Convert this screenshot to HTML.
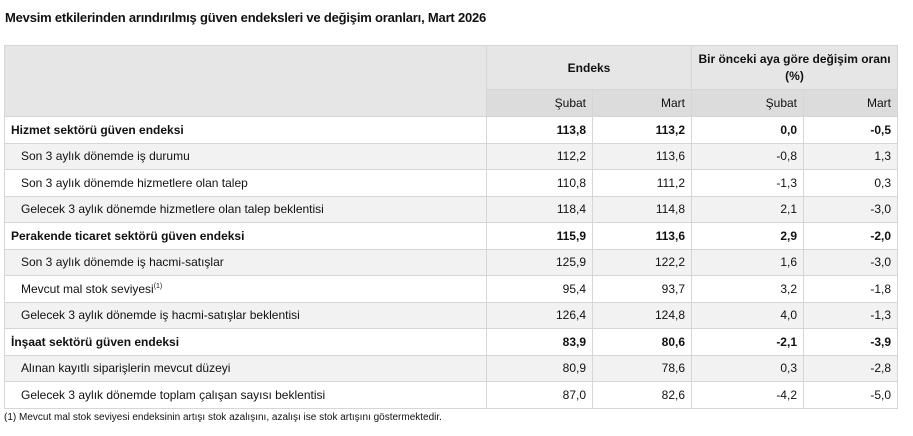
<!DOCTYPE html>
<html><head><meta charset="utf-8"><style>
body{margin:0;background:#fff;width:913px;height:436px;overflow:hidden;font-family:"Liberation Sans",Arial,sans-serif;color:#111;position:relative}
.t{position:absolute;left:5px;top:10px;font-size:13px;font-weight:bold;letter-spacing:-0.2px}
table{position:absolute;left:4px;top:45px;width:893px;border-collapse:collapse;table-layout:fixed;font-size:12px}
td,th{border:1px solid #d6d6d6;padding:0 6px;box-sizing:border-box}
th{font-weight:bold;background:#e6e6e6}
tr.h2 td{background:#dcdcdc;text-align:right;height:27px}
tbody td{height:26.5px;text-align:right}
tbody td:first-child{text-align:left}
tbody tr:nth-child(even) td{background:#f2f2f2}
tr.b td{font-weight:bold}
td.i{padding-left:16px}
.f{position:absolute;left:4px;top:412px;font-size:10px}
sup{font-size:7px}
</style></head><body>
<div class="t">Mevsim etkilerinden arındırılmış güven endeksleri ve değişim oranları, Mart 2026</div>
<table>
<colgroup><col style="width:482px"><col style="width:106px"><col style="width:99px"><col style="width:112px"><col style="width:94px"></colgroup>
<thead>
<tr><th rowspan="2" style="height:71px"></th><th colspan="2" style="height:44px">Endeks</th><th colspan="2" style="line-height:17px;white-space:nowrap;padding:0 4px">Bir önceki aya göre değişim oranı<br>(%)</th></tr>
<tr class="h2"><td>Şubat</td><td>Mart</td><td>Şubat</td><td>Mart</td></tr>
</thead>
<tbody>
<tr class="b"><td>Hizmet sektörü güven endeksi</td><td>113,8</td><td>113,2</td><td>0,0</td><td>-0,5</td></tr>
<tr><td class="i">Son 3 aylık dönemde iş durumu</td><td>112,2</td><td>113,6</td><td>-0,8</td><td>1,3</td></tr>
<tr><td class="i">Son 3 aylık dönemde hizmetlere olan talep</td><td>110,8</td><td>111,2</td><td>-1,3</td><td>0,3</td></tr>
<tr><td class="i">Gelecek 3 aylık dönemde hizmetlere olan talep beklentisi</td><td>118,4</td><td>114,8</td><td>2,1</td><td>-3,0</td></tr>
<tr class="b"><td>Perakende ticaret sektörü güven endeksi</td><td>115,9</td><td>113,6</td><td>2,9</td><td>-2,0</td></tr>
<tr><td class="i">Son 3 aylık dönemde iş hacmi-satışlar</td><td>125,9</td><td>122,2</td><td>1,6</td><td>-3,0</td></tr>
<tr><td class="i">Mevcut mal stok seviyesi<sup>(1)</sup></td><td>95,4</td><td>93,7</td><td>3,2</td><td>-1,8</td></tr>
<tr><td class="i">Gelecek 3 aylık dönemde iş hacmi-satışlar beklentisi</td><td>126,4</td><td>124,8</td><td>4,0</td><td>-1,3</td></tr>
<tr class="b"><td>İnşaat sektörü güven endeksi</td><td>83,9</td><td>80,6</td><td>-2,1</td><td>-3,9</td></tr>
<tr><td class="i">Alınan kayıtlı siparişlerin mevcut düzeyi</td><td>80,9</td><td>78,6</td><td>0,3</td><td>-2,8</td></tr>
<tr><td class="i">Gelecek 3 aylık dönemde toplam çalışan sayısı beklentisi</td><td>87,0</td><td>82,6</td><td>-4,2</td><td>-5,0</td></tr>
</tbody>
</table>
<div class="f">(1) Mevcut mal stok seviyesi endeksinin artışı stok azalışını, azalışı ise stok artışını göstermektedir.</div>
</body></html>
